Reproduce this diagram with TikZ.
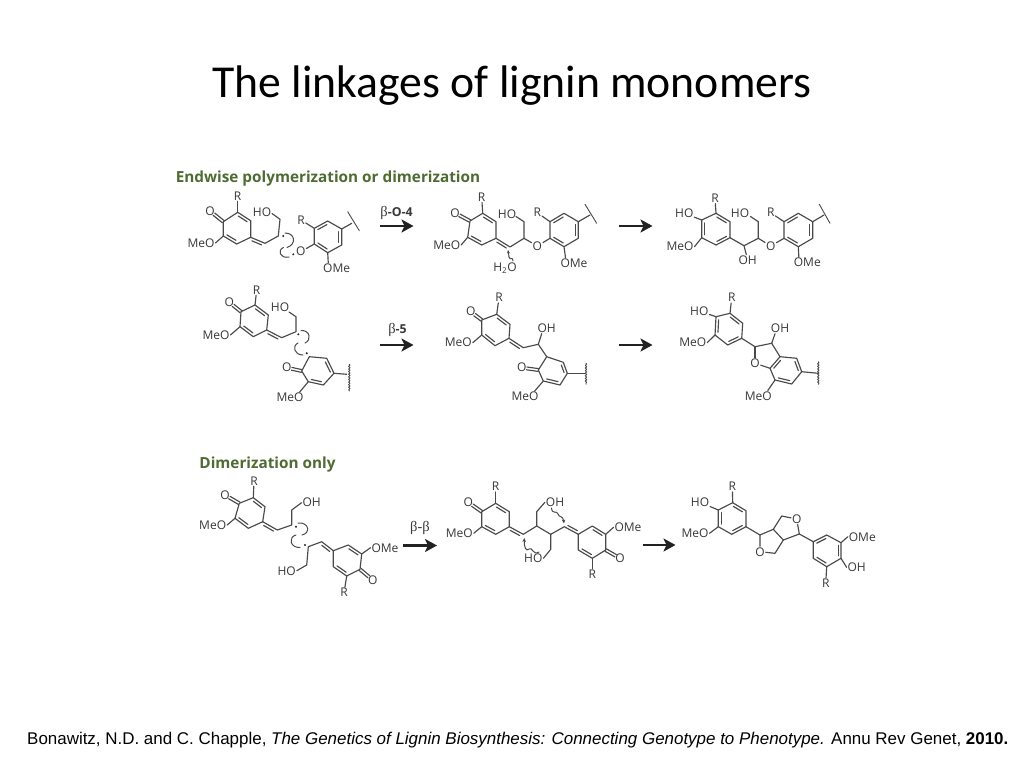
\documentclass[tikz,border=0pt]{standalone}
\usepackage{fontspec}
\usetikzlibrary{calc,arrows.meta,decorations.pathmorphing}
\setmainfont{Liberation Sans}
\newfontfamily\titlef{Carlito}
\newfontfamily\chemf{Open Sans}
\newfontfamily\betaf{Liberation Serif}
\definecolor{bondc}{HTML}{4A4A4A}
\definecolor{labc}{HTML}{383838}
\definecolor{headc}{HTML}{4E6B32}
\definecolor{tipc}{HTML}{222222}
\tikzset{
 bond/.style={draw=bondc,line width=1.15pt,line join=round,line cap=round},
 wig/.style={bond,line width=.9pt,decorate,decoration={snake,amplitude=.7pt,segment length=2.6pt}},
 curly/.style={draw=bondc,line width=1pt,line cap=round},
 chem/.style={text=labc,font=\chemf\fontsize{12}{12}\selectfont,inner sep=.8pt},
 heading/.style={text=headc,font=\chemf\bfseries\fontsize{15.3}{16}\selectfont,inner sep=0pt},
 rxn/.style={draw=tipc,line width=2.9pt,-{Stealth[length=12pt,width=13pt,inset=3pt]}},
 rxnlab/.style={text=labc,font=\chemf\bfseries\fontsize{12.3}{13}\selectfont,inner sep=0pt},
 radical/.style={fill=tipc,draw=none}
}
\newcommand{\ringat}[7]{%
 \coordinate (#1t) at (#2); \coordinate (#1ur) at (#3); \coordinate (#1lr) at (#4);
 \coordinate (#1b) at (#5); \coordinate (#1ll) at (#6); \coordinate (#1ul) at (#7);
 \draw[bond] (#1t)--(#1ur)--(#1lr)--(#1b)--(#1ll)--(#1ul)--cycle;}
\newcommand{\inn}[3][-2.8pt]{\draw[bond] ($(#2)!.16!(#3)!#1!90:(#3)$) -- ($(#3)!.16!(#2)!#1!-90:(#2)$);}
\newcommand{\quin}[1]{\inn{#1t}{#1ur}\inn{#1b}{#1ll}}
\newcommand{\arA}[1]{\inn{#1t}{#1ur}\inn{#1lr}{#1b}\inn{#1ll}{#1ul}}
\newcommand{\arB}[1]{\inn{#1ul}{#1t}\inn{#1ur}{#1lr}\inn{#1b}{#1ll}}
\newcommand{\carb}[2]{%
 \coordinate (tmpc) at ($(#1)!5pt!(#2)$);
 \draw[bond] ($(tmpc)!1.4pt!90:(#2)$) -- ($(#2)!1.4pt!-90:(tmpc)$);
 \draw[bond] ($(tmpc)!1.4pt!-90:(#2)$) -- ($(#2)!1.4pt!90:(tmpc)$);}
\newcommand{\lab}[3]{\node[chem] (#1) at (#2) {#3};}
\newcommand{\rad}[1]{\fill[radical] (#1) circle (1.1pt);}
\begin{document}
\begin{tikzpicture}[x=1pt,y=-1pt]
\useasboundingbox (0,0) rectangle (1024,768);
\fill[white] (0,0) rectangle (1024,768);
\node[font=\titlef\fontsize{45.7}{48}\selectfont,text=black,inner sep=0pt] (title) at (512,85.5) {The linkages of lignin monomers};
\node[heading] (head1) at (328,178.5) {Endwise polymerization or dimerization};
\node[heading] (head2) at (267.5,464.5) {Dimerization only};
\node[anchor=west,inner sep=0pt,font=\fontsize{16.95}{18}\selectfont,text=black] (cite) at (27,740) {Bonawitz, N.D. and C. Chapple, \textit{The Genetics of Lignin Biosynthesis: Connecting Genotype to Phenotype.} Annu Rev Genet, \textbf{2010.}};
% reaction arrows
\foreach \n/\a/\b/\y in {a1/380/413.5/226,a2/619/652.5/226,a3/380/413.5/345,a4/619/652.5/345,a5/403/437/545.5,a6/643/675.5/545}{
 \coordinate (\n s) at (\a,\y); \coordinate (\n e) at (\b,\y);
 \draw[rxn] (\n s) -- (\n e);}
\node[rxnlab] (l1) at (396.5,212.5) {{\betaf\mdseries\fontsize{14.5}{13}\selectfont β}-O-4};
\node[rxnlab] (l2) at (397.5,330) {{\betaf\mdseries\fontsize{14.5}{13}\selectfont β}-5};
\node[rxnlab] (l3) at (420,527.5) {{\betaf\mdseries\fontsize{14.5}{13}\selectfont β-β}};
% ---------- molecule 1
\ringat{A}{237.7,212.3}{250.7,220.7}{250.7,237.3}{236.7,244}{223.3,236}{223.3,221.7}
\quin{A}
\lab{aO}{210,211}{O}\lab{aR}{237.7,196}{R}\lab{aM}{201,243}{MeO}\lab{aH}{262,212}{HO}
\carb{aO}{Aul}
\draw[bond] (At)--(aR); \draw[bond] (All)--(aM.east);
\coordinate (a1) at (265,243.3); \coordinate (a2) at (278.3,236); \coordinate (a3) at (280,219.3); \coordinate (a4) at (272,213.5);
\draw[bond] (Alr)--(a1)--(a2)--(a3)--(a4); \inn[-2.8pt]{Alr}{a1}
\coordinate (ad1) at (283.3,236); \rad{ad1}
\coordinate (ad2) at (293.3,254.3); \rad{ad2}
\draw[curly] (285,233) .. controls (295,233) and (297,244) .. (287,247.5);
\draw[curly] (289,257) .. controls (280,259) and (277,250) .. (283.5,247.5);
\ringat{B}{327.7,221}{341.7,229}{341.7,245}{327.7,252.7}{314.3,244}{314.3,228.3}
\arB{B}
\lab{bO}{300.7,251.7}{O}\lab{bR}{301,220}{R}\lab{bM}{336.7,268}{OMe}
\draw[bond] (Bll)--(bO); \draw[bond] (Bul)--(bR); \draw[bond] (Bb)--([xshift=6pt]bM.north west);
\coordinate (bw) at (351.7,223.3); \draw[bond] (Bur)--(bw);
\coordinate (bw1) at (347.7,211.7); \coordinate (bw2) at (359.3,230.7); \draw[bond,line width=.9pt] (bw1)--(bw2);
% ---------- molecule 2
\ringat{C}{482.7,213.3}{496,221.7}{496,238.3}{481.7,245}{467.7,237.3}{470,221}
\quin{C}
\lab{cO}{455,213}{O}\lab{cR}{481.7,197.3}{R}\lab{cM}{446.7,245}{MeO}\lab{cH}{507,214.3}{HO}\lab{cW}{505,268}{H\textsubscript{2}O}
\carb{cO}{Cul}
\draw[bond] (Ct)--(cR); \draw[bond] (Cll)--(cM.east);
\coordinate (c1) at (510,247); \coordinate (c2) at (524,238.3); \coordinate (c3) at (524,221.7); \coordinate (c4) at (516,216.5);
\draw[bond] (Clr)--(c1)--(c2)--(c3)--(c4); \inn[-2.8pt]{Clr}{c1}
\lab{cE}{537.3,246}{O}\draw[bond] (c2)--(cE);
\ringat{D}{564,213.3}{578.3,221.7}{578.3,238.3}{564,246.7}{550,238.3}{550,221.7}
\arB{D}
\lab{dR}{537.3,212.7}{R}\lab{dM}{574,263.3}{OMe}
\draw[bond] (cE)--(Dll); \draw[bond] (Dul)--(dR); \draw[bond] (Db)--([xshift=6pt]dM.north west);
\coordinate (dw) at (590,215); \draw[bond] (Dur)--(dw);
\coordinate (dw1) at (585,204.3); \coordinate (dw2) at (596.7,223.3); \draw[bond,line width=.9pt] (dw1)--(dw2);
\draw[curly,-{Stealth[length=3.5pt,width=3pt]}] (509,257) -- (508,250);
\draw[curly] (509,257) .. controls (510,261) and (513,256) .. (513,261);
% ---------- molecule 3
\ringat{E}{716,213.3}{730,221.7}{730,237.7}{716,245}{701.7,237.7}{701.7,220}
\arA{E}
\lab{eR}{715,198.3}{R}\lab{eH}{684.3,213.3}{HO}\lab{eM}{680,246.7}{MeO}\lab{eU}{747.7,260}{OH}\lab{eV}{740,213.3}{HO}\lab{eO}{770.7,246}{O}
\draw[bond] (Et)--(eR); \draw[bond] (Eul)--(eH); \draw[bond] (Ell)--(eM.east);
\coordinate (e1) at (744,245.7); \coordinate (e2) at (758.3,238.3); \coordinate (e3) at (758.3,221.7); \coordinate (e4) at (750.5,216.5);
\draw[bond] (Elr)--(e1)--(e2)--(e3)--(e4); \draw[bond] (e1)--(eU); \draw[bond] (e2)--(eO);
\ringat{F}{798.3,213.3}{812.7,221.7}{812.7,238.3}{798.3,246.7}{784,238.3}{784,221.7}
\arB{F}
\lab{fR}{770.7,212.7}{R}\lab{fM}{807.3,262.7}{OMe}
\draw[bond] (eO)--(Fll); \draw[bond] (Ful)--(fR); \draw[bond] (Fb)--([xshift=6pt]fM.north west);
\coordinate (fw) at (824,215); \draw[bond] (Fur)--(fw);
\coordinate (fw1) at (819.3,204.3); \coordinate (fw2) at (830,223.3); \draw[bond,line width=.9pt] (fw1)--(fw2);
% ---------- molecule 4
\ringat{G}{255,305}{268.3,315}{266.7,330}{253.3,336.7}{240,326.7}{241,311.7}
\quin{G}
\lab{gO}{229.3,302.3}{O}\lab{gR}{256.7,290}{R}\lab{gM}{216,335}{MeO}\lab{gH}{280,307.7}{HO}
\carb{gO}{Gul}
\draw[bond] (Gt)--(gR); \draw[bond] (Gll)--(gM.east);
\coordinate (g1) at (281.7,337.7); \coordinate (g2) at (296,331.7); \coordinate (g3) at (296,316.7); \coordinate (g4) at (289,312);
\draw[bond] (Glr)--(g1)--(g2)--(g3)--(g4); \inn[-2.8pt]{Glr}{g1}
\coordinate (gd1) at (298.3,334.3); \rad{gd1}
\coordinate (gd2) at (306.7,353.3); \rad{gd2}
\draw[curly] (301,330.5) .. controls (310,330) and (312,340) .. (305,343);
\draw[curly] (303,355) .. controls (294,355) and (292,346) .. (298,343);
\ringat{H}{309.3,356.7}{326.7,358.3}{334,373.3}{323.3,385}{308.3,381.7}{301.7,371}
\inn{Hur}{Hlr}\inn{Hb}{Hll}
\lab{hO}{286.7,367.7}{O}\lab{hM}{290,397.7}{MeO}
\carb{hO}{Hul}
\draw[bond] (Hll)--([xshift=-5pt]hM.north east);
\coordinate (hw) at (346.7,374.3); \draw[bond] (Hlr)--(hw);
\coordinate (hw1) at (349.3,364.3); \coordinate (hw2) at (349.3,391); \draw[wig] (hw1)--(hw2);
% ---------- molecule 5
\ringat{I}{496.7,314.3}{510,324.3}{509,338.3}{495,345.7}{481.7,335}{481.7,320}
\quin{I}
\lab{iO}{470.7,311.7}{O}\lab{iR}{499,297.7}{R}\lab{iM}{458.3,342.7}{MeO}\lab{iU}{546.7,328.3}{OH}
\carb{iO}{Iul}
\draw[bond] (It)--(iR); \draw[bond] (Ill)--(iM.east);
\coordinate (i1) at (523.3,347.7); \coordinate (i2) at (538.3,344.3); \coordinate (i3) at (546.7,356.7);
\draw[bond] (Ilr)--(i1)--(i2)--(i3); \inn[-2.8pt]{Ilr}{i1}
\draw[bond] (i2)--([xshift=-5pt]iU.south);
\ringat{J}{546.7,356.7}{563.3,362.3}{567.3,373.3}{560,385}{543.3,381}{538.3,370}
\inn{Jur}{Jlr}\inn{Jb}{Jll}
\lab{jO}{521.7,367.7}{O}\lab{jM}{525,396.7}{MeO}
\carb{jO}{Jul}
\draw[bond] (Jll)--([xshift=-5pt]jM.north east);
\coordinate (jw) at (585,373.3); \draw[bond] (Jlr)--(jw);
\coordinate (jw1) at (586,363.3); \coordinate (jw2) at (586,384.3); \draw[wig] (jw1)--(jw2);
% ---------- molecule 6
\ringat{K}{730,313.3}{742.7,323.3}{741.7,338.3}{727.7,345}{715,335}{716,316.7}
\arA{K}
\lab{kR}{731.7,297.7}{R}\lab{kH}{699.3,311}{HO}\lab{kM}{692.7,342.7}{MeO}\lab{kU}{780,328.3}{OH}\lab{kO}{755,363.3}{O}
\draw[bond] (Kt)--(kR); \draw[bond] (Kul)--(kH); \draw[bond] (Kll)--(kM.east);
\coordinate (k1) at (755,346.7); \coordinate (k2) at (771.7,343.3);
\draw[bond] (Klr)--(k1)--(k2); \draw[bond] (k1)--(kO); \draw[bond] (k2)--([xshift=-5pt]kU.south);
\ringat{L}{780,356.7}{796.7,358.3}{801.7,371.7}{791.7,384}{775,380}{770,368.3}
\arB{L}
\draw[bond] (k2)--(Lt); \draw[bond] (kO)--(Lul);
\lab{lM}{758.3,396}{MeO}
\draw[bond] (Lll)--([xshift=-5pt]lM.north east);
\coordinate (lw) at (818.3,373.3); \draw[bond] (Llr)--(lw);
\coordinate (lw1) at (818.3,361.7); \coordinate (lw2) at (818.3,384.3); \draw[wig] (lw1)--(lw2);
% ---------- molecule 7
\ringat{M}{253.3,497.7}{265,506.7}{262.7,521.7}{248.3,528.3}{235,518.3}{239.3,503.3}
\quin{M}
\lab{mO}{225,495}{O}\lab{mR}{254,481}{R}\lab{mM}{212.7,525}{MeO}\lab{mU}{311.7,502.7}{OH}
\carb{mO}{Mul}
\draw[bond] (Mt)--(mR); \draw[bond] (Mll)--(mM.east);
\coordinate (m1) at (277.3,530); \coordinate (m2) at (291.7,525); \coordinate (m3) at (291.7,510);
\draw[bond] (Mlr)--(m1)--(m2)--(m3)--(mU.west); \inn[-2.8pt]{Mlr}{m1}
\coordinate (md1) at (296,526.7); \rad{md1}
\coordinate (md2) at (305,545); \rad{md2}
\draw[curly] (298,523) .. controls (309,522) and (311,533) .. (302,535);
\draw[curly] (300,547.5) .. controls (290,548) and (288,537) .. (296,535);
% ---------- molecule 8
\ringat{N}{348.3,545}{361.7,554}{360,569.3}{346.7,576}{333.3,566.7}{333.3,550.7}
\quin{N}
\lab{nM}{385,547.7}{OMe}\lab{nO}{372.7,580}{O}\lab{nR}{344,592.7}{R}\lab{nH}{286.7,570.7}{HO}
\carb{nO}{Nlr}
\draw[bond] (Nur)--(nM.west); \draw[bond] (Nb)--(nR);
\coordinate (n1) at (321.7,541.7); \coordinate (n2) at (308.3,546.7); \coordinate (n3) at (306.7,565);
\draw[bond] (Nul)--(n1)--(n2)--(n3)--(nH.east); \inn[2.8pt]{Nul}{n1}
% ---------- molecule 9
\ringat{P}{495.7,503.3}{509.3,511.7}{509.3,526.7}{495.7,534.3}{481.7,526.7}{481.7,511.7}
\quin{P}
\lab{pO}{468.3,502.3}{O}\lab{pR}{495.7,486.7}{R}\lab{pM}{459.3,533.3}{MeO}\lab{pU}{555,502.3}{OH}\lab{pH}{533.3,558.3}{HO}
\carb{pO}{Pul}
\draw[bond] (Pt)--(pR); \draw[bond] (Pll)--(pM.east);
\coordinate (p1) at (523.3,534.3); \coordinate (p2) at (536.7,526); \coordinate (p3) at (536.7,511.7); \coordinate (p4) at (550.7,534.3); \coordinate (p5) at (550.7,549.3); \coordinate (p6) at (564.3,526.7);
\draw[bond] (Plr)--(p1)--(p2)--(p3)--(pU.west); \inn[-2.8pt]{Plr}{p1}
\draw[bond] (p2)--(p4)--(p5)--(pH.east);
\ringat{Q}{592.3,526}{605.7,534.3}{605.7,550}{592.3,558.3}{578.3,550}{578.3,534.3}
\quin{Q}
\draw[bond] (p4)--(p6)--(Qul); \inn[2.8pt]{p6}{Qul}
\lab{qM}{628,527.3}{OMe}\lab{qO}{620,558.3}{O}\lab{qR}{592.3,574}{R}
\draw[bond] (Qur)--(qM.west); \draw[bond] (Qb)--(qR); \carb{qO}{Qlr}
\draw[curly,-{Stealth[length=4pt,width=3.5pt]}] (539,552) .. controls (533,556) and (532,546) .. (529,549) .. controls (526,552) and (524,547) .. (524.3,538);
\draw[curly,-{Stealth[length=4pt,width=3.5pt]}] (551.5,508) .. controls (552,515) and (557,510) .. (558,514) .. controls (559,518) and (563,515) .. (564,523.5);
% ---------- molecule 10
\ringat{R}{732.7,502.7}{746,510.7}{746,526.7}{731.7,534.3}{718.3,526.7}{718.3,510}
\arA{R}
\lab{rR}{732.3,486.7}{R}\lab{rH}{700,502.3}{HO}\lab{rM}{695,533.3}{MeO}
\draw[bond] (Rt)--(rR); \draw[bond] (Rul)--(rH); \draw[bond] (Rll)--(rM.east);
\coordinate (r1) at (760,535); \coordinate (r2) at (773.3,529.3); \coordinate (r3) at (781.7,516); \coordinate (r4) at (799.3,534); \coordinate (r5) at (783.3,540); \coordinate (r6) at (775,553.3);
\lab{rA}{796.7,519}{O}\lab{rB}{760,551.7}{O}
\draw[bond] (Rlr)--(r1)--(r2)--(r3)--(rA); \draw[bond] (rA)--(r4)--(r5)--(r2); \draw[bond] (r5)--(r6)--(rB)--(r1);
\ringat{S}{826.7,535}{841,542.7}{841,558.3}{826.7,566.7}{813.3,558.3}{813.3,541.7}
\arB{S}
\draw[bond] (r4)--(Sul);
\lab{sM}{862.3,536.7}{OMe}\lab{sH}{856.7,567.3}{OH}\lab{sR}{825.7,583.3}{R}
\draw[bond] (Sur)--(sM.west); \draw[bond] (Slr)--(sH.west); \draw[bond] (Sb)--(sR);
\end{tikzpicture}
\end{document}
